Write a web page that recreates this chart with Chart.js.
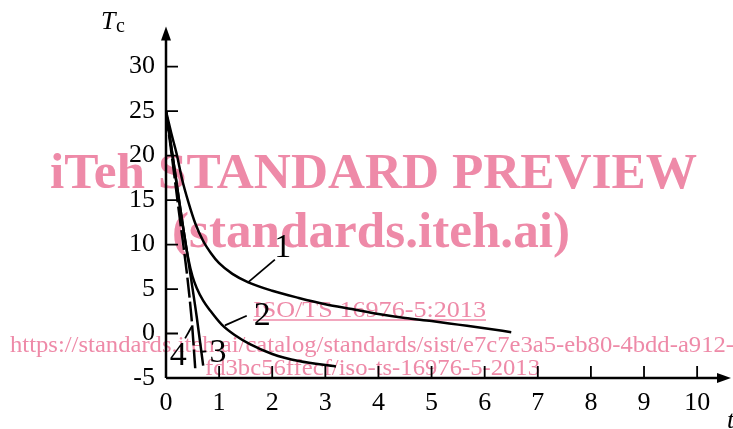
<!DOCTYPE html>
<html>
<head>
<meta charset="utf-8">
<script src="https://cdn.jsdelivr.net/npm/chart.js"></script>
<style>
  html, body { margin: 0; padding: 0; background: #fff; }
</style>
</head>
<body>
<canvas id="grafico" width="733" height="429"></canvas>
<script>
// Eixos
const xTicks = [0, 1, 2, 3, 4, 5, 6, 7, 8, 9, 10];
const yTicks = [-5, 0, 5, 10, 15, 20, 25, 30];

// Curvas
const curve1X = [0, 0.1, 0.2, 0.3, 0.42, 0.55, 0.7, 0.85, 1, 1.25, 1.55, 2, 2.5, 3, 3.5, 4, 4.5, 5, 5.5, 6, 6.5];
const curve1Y = [25, 22.5, 20.2, 17.4, 14.8, 12.4, 10.4, 9.0, 7.9, 6.7, 5.75, 4.8, 4.0, 3.3, 2.75, 2.2, 1.75, 1.4, 1.0, 0.6, 0.15];

const curve2X = [0, 0.1, 0.2, 0.3, 0.42, 0.5, 0.58, 0.7, 0.83, 1.05, 1.3, 1.58, 2, 2.5, 3.2];
const curve2Y = [25, 21, 16.9, 12.8, 8.4, 6.4, 5.1, 3.7, 2.6, 1.0, -0.2, -1.2, -2.3, -3.1, -3.7];

const curve3X = [0, 0.25, 0.58, 0.7];
const curve3Y = [25, 14.8, 1.8, -3.6];

const curve4X = [0, 0.22, 0.48, 0.55];
const curve4Y = [25, 14.8, 1.8, -3.9];

// Linhas de chamada dos rótulos
const leader1X = [1.55, 2.05];
const leader1Y = [5.78, 8.3];
const leader2X = [1.11, 1.52];
const leader2Y = [0.91, 2.0];
const leader3X = [0.65, 0.76];
const leader3Y = [-2.05, -2.0];
const leader4X = [0.36, 0.48];
const leader4Y = [-0.54, 0.73];

// Rótulos das curvas
const labelText = ["1", "2", "3", "4"];
const labelX = [2.2, 1.81, 0.98, 0.23];
const labelY = [9.6, 2.0, -2.2, -2.5];

const pink = "rgb(238,138,168)";
const serif = "'Liberation Serif', 'Times New Roman', serif";

function pts(xs, ys) {
  return xs.map((x, i) => ({ x: x, y: ys[i] }));
}

function curve(xs, ys, dash) {
  return {
    data: pts(xs, ys),
    showLine: true,
    borderColor: "#000",
    borderWidth: 2.5,
    borderDash: dash || [],
    pointRadius: 0,
    cubicInterpolationMode: "monotone",
    fill: false,
  };
}

function leader(xs, ys) {
  return {
    data: pts(xs, ys),
    showLine: true,
    borderColor: "#000",
    borderWidth: 1.8,
    pointRadius: 0,
    tension: 0,
    fill: false,
  };
}

// Marca d'água + eixos desenhados à mão
const marcaDagua = {
  id: "marcaDagua",
  beforeDraw(chart) {
    const ctx = chart.ctx;
    ctx.save();
    ctx.fillStyle = "#fff";
    ctx.fillRect(0, 0, chart.width, chart.height);
    ctx.fillStyle = pink;
    ctx.strokeStyle = pink;
    ctx.textBaseline = "alphabetic";
    ctx.textAlign = "left";

    function fitText(text, x, y, w, font) {
      ctx.font = font;
      const m = ctx.measureText(text).width;
      ctx.save();
      ctx.translate(x, y);
      ctx.scale(w / m, 1);
      ctx.fillText(text, 0, 0);
      ctx.restore();
    }

    fitText("iTeh STANDARD PREVIEW", 50, 188, 647, "bold 50px " + serif);
    fitText("(standards.iteh.ai)", 172, 247, 398, "bold 50px " + serif);
    fitText("ISO/TS 16976-5:2013", 253, 317, 233, "23px " + serif);
    ctx.lineWidth = 1.5;
    ctx.beginPath();
    ctx.moveTo(253, 320);
    ctx.lineTo(486, 320);
    ctx.stroke();
    fitText("https://standards.iteh.ai/catalog/standards/sist/e7c7e3a5-eb80-4bdd-a912-", 10, 352, 724, "23px " + serif);
    fitText("fd3bc56ffecf/iso-ts-16976-5-2013", 205, 375, 335, "23px " + serif);
    ctx.restore();
  },
  afterDraw(chart) {
    const ctx = chart.ctx;
    const xs = chart.scales.x;
    const ys = chart.scales.y;
    const area = chart.chartArea;
    const x0 = xs.getPixelForValue(0);
    const yb = ys.getPixelForValue(-5);
    ctx.save();
    ctx.strokeStyle = "#000";
    ctx.fillStyle = "#000";
    ctx.lineWidth = 2.5;

    // eixos
    ctx.beginPath();
    ctx.moveTo(x0, yb);
    ctx.lineTo(x0, area.top + 10);
    ctx.moveTo(x0, yb);
    ctx.lineTo(area.right - 8, yb);
    ctx.stroke();

    // setas
    ctx.beginPath();
    ctx.moveTo(x0, area.top);
    ctx.lineTo(x0 - 5, area.top + 14);
    ctx.lineTo(x0 + 5, area.top + 14);
    ctx.closePath();
    ctx.fill();
    ctx.beginPath();
    ctx.moveTo(area.right + 2, yb);
    ctx.lineTo(area.right - 12, yb - 5);
    ctx.lineTo(area.right - 12, yb + 5);
    ctx.closePath();
    ctx.fill();

    // marcas internas
    ctx.lineWidth = 1.8;
    ctx.beginPath();
    yTicks.forEach((v) => {
      if (v === -5) return;
      const p = ys.getPixelForValue(v);
      ctx.moveTo(x0, p);
      ctx.lineTo(x0 + 12, p);
    });
    xTicks.forEach((v) => {
      if (v === 0) return;
      const p = xs.getPixelForValue(v);
      ctx.moveTo(p, yb);
      ctx.lineTo(p, yb - 12);
    });
    ctx.stroke();

    // rótulos das curvas
    ctx.font = "34px " + serif;
    ctx.textAlign = "center";
    ctx.textBaseline = "middle";
    labelText.forEach((t, i) => {
      ctx.fillText(t, xs.getPixelForValue(labelX[i]), ys.getPixelForValue(labelY[i]));
    });

    // títulos dos eixos
    ctx.textBaseline = "alphabetic";
    ctx.textAlign = "left";
    ctx.font = "italic 26px " + serif;
    ctx.fillText("T", 101, 29);
    ctx.font = "20px " + serif;
    ctx.fillText("c", 116, 32);
    ctx.font = "italic 26px " + serif;
    ctx.fillText("t", 727, 428);
    ctx.restore();
  },
};

const grafico = new Chart(document.getElementById("grafico"), {
  type: "scatter",
  data: {
    datasets: [
      curve(curve1X, curve1Y),
      curve(curve2X, curve2Y),
      curve(curve3X, curve3Y),
      curve(curve4X, curve4Y, [20, 4]),
      leader(leader1X, leader1Y),
      leader(leader2X, leader2Y),
      leader(leader3X, leader3Y),
      leader(leader4X, leader4Y),
    ],
  },
  options: {
    responsive: false,
    devicePixelRatio: 1,
    animation: false,
    layout: { padding: { left: 0, right: 4, top: 12, bottom: 0 } },
    plugins: {
      legend: { display: false },
      tooltip: { enabled: false },
    },
    scales: {
      x: {
        type: "linear",
        min: 0,
        max: 10.6,
        grid: { display: false, drawTicks: false },
        border: { display: false },
        ticks: { color: "#000", font: { family: serif, size: 26 }, padding: 10, maxRotation: 0 },
        afterBuildTicks: (axis) => {
          axis.ticks = xTicks.map((v) => ({ value: v }));
        },
        afterFit: (axis) => {
          axis.height = 51;
        },
      },
      y: {
        type: "linear",
        min: -5,
        max: 34.5,
        grid: { display: false, drawTicks: false },
        border: { display: false },
        ticks: { color: "#000", font: { family: serif, size: 26 }, padding: 11 },
        afterBuildTicks: (axis) => {
          axis.ticks = yTicks.map((v) => ({ value: v }));
        },
        afterFit: (axis) => {
          axis.width = 166;
        },
      },
    },
  },
  plugins: [marcaDagua],
});
</script>
</body>
</html>
